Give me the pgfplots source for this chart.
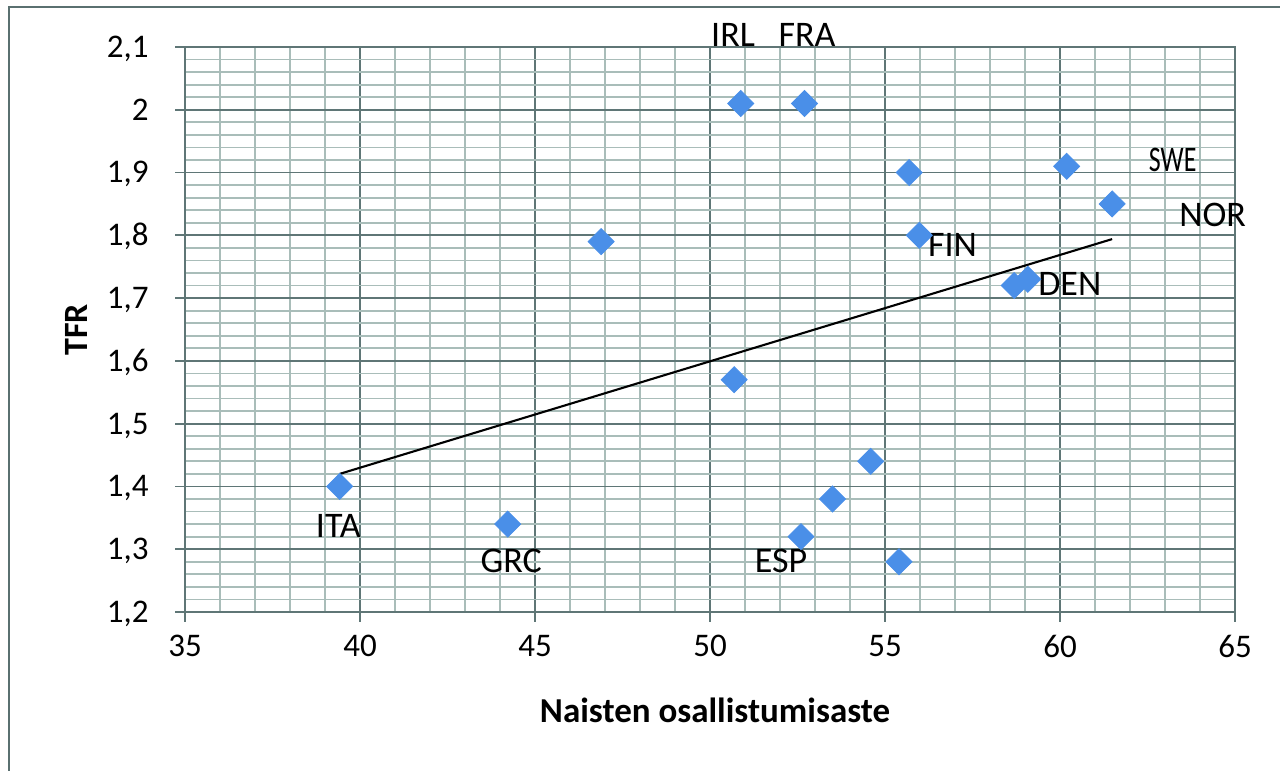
\documentclass[border=0pt]{standalone}
\usepackage{fontspec}
\setmainfont{Carlito}
\usepackage{pgfplots}
\usepackage{pgfplotstable}
\pgfplotsset{compat=1.18}
\definecolor{majgrid}{HTML}{5F7676}
\definecolor{mingrid}{HTML}{A9BDB9}
\definecolor{mk}{HTML}{4A8FE8}
\definecolor{framecol}{HTML}{5A7070}
\pgfplotstableread{
x y
39.42 1.40
44.22 1.34
46.89 1.79
50.69 1.57
50.88 2.01
52.70 2.01
52.60 1.32
53.50 1.38
54.59 1.44
55.40 1.28
55.69 1.90
55.98 1.80
58.69 1.72
59.08 1.73
60.19 1.91
61.49 1.85
}\pts
\begin{document}
\begin{tikzpicture}[x=1pt,y=1pt]
\path[use as bounding box] (0,0) rectangle (640,385.5);
\draw[framecol, line width=1pt] (642,382) -- (4.5,382) -- (4.5,-2);
\begin{axis}[
  at={(92.5pt,79.5pt)}, anchor=south west,
  scale only axis, width=525pt, height=282.5pt,
  xmin=35, xmax=65, ymin=1.2, ymax=2.1,
  xtick={35,40,45,50,55,60,65},
  ytick={1.2,1.3,1.4,1.5,1.6,1.7,1.8,1.9,2.0,2.1},
  yticklabels={{1,2},{1,3},{1,4},{1,5},{1,6},{1,7},{1,8},{1,9},{2},{2,1}},
  minor x tick num=4, minor y tick num=4,
  grid=both,
  major grid style={majgrid, line width=0.9pt},
  minor grid style={mingrid, line width=0.85pt},
  axis line style={majgrid, line width=0.9pt},
  tick style={majgrid, line width=0.9pt},
  tick align=outside, tick pos=left,
  major tick length=5pt, minor tick length=0pt,
  /pgf/number format/assume math mode=true,
  tick label style={font=\fontsize{16.5}{20}\selectfont, inner sep=0pt},
  xticklabel style={anchor=north, yshift=-6.5pt},
  yticklabel style={anchor=base east, xshift=-13pt, yshift=-5.2pt},
  clip=false,
]
\addplot[only marks, mark=square*, mark size=4.6pt,
  mark options={rotate=45, fill=mk, draw=mk, rounded corners=0.8pt}] table[x=x,y=y] {\pts};
\addplot[black, line width=1.05pt] coordinates {(39.42,1.42) (61.49,1.794)};
\begin{scope}[every node/.style={font=\fontsize{18}{20}\selectfont, anchor=base, inner sep=0pt}]
\node at (axis cs:50.66,2.1005) {IRL};
\node at (axis cs:52.77,2.1005) {FRA};
\node[xscale=0.72] at (axis cs:63.22,1.9014) {SWE};
\node at (axis cs:64.36,1.8139) {NOR};
\node at (axis cs:60.28,1.704) {DEN};
\node at (axis cs:56.93,1.766) {FIN};
\node at (axis cs:39.38,1.3193) {ITA};
\node at (axis cs:44.32,1.2624) {GRC};
\node at (axis cs:52.03,1.2624) {ESP};
\end{scope}
\end{axis}
\node[font=\bfseries\fontsize{17.5}{20}\selectfont, anchor=base, inner sep=0pt] at (357.5,24) {Naisten osallistumisaste};
\node[font=\bfseries\fontsize{17}{20}\selectfont, anchor=base, rotate=90, inner sep=0pt] at (43.65,220.5) {TFR};
\end{tikzpicture}
\end{document}
